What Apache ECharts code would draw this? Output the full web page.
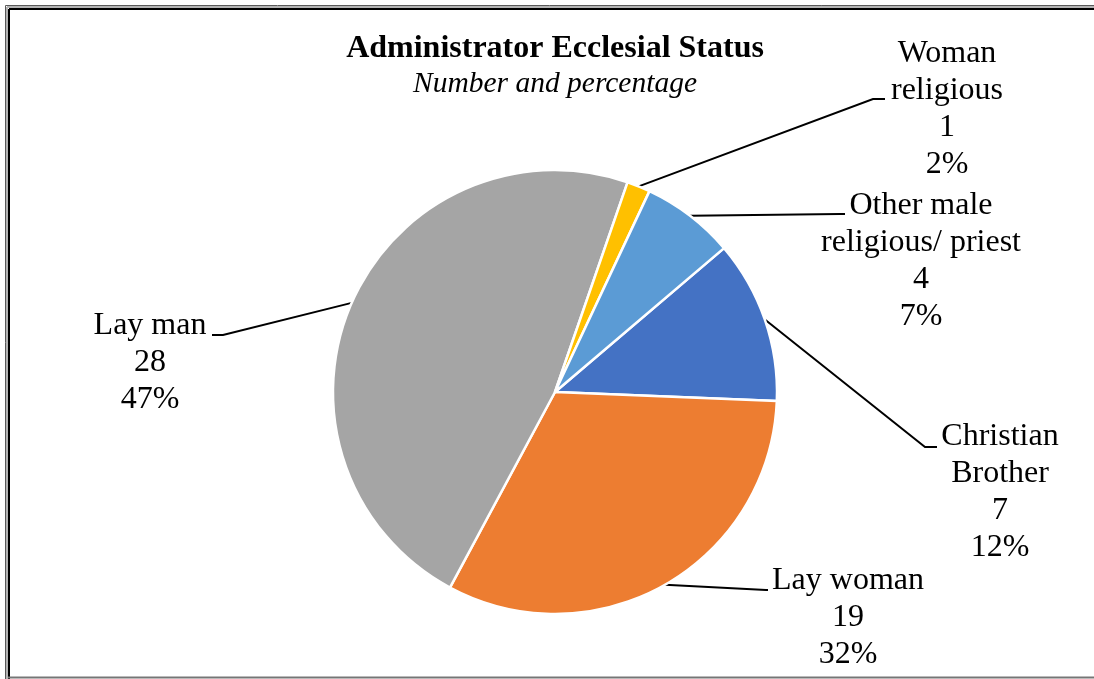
<!DOCTYPE html>
<html>
<head>
<meta charset="utf-8">
<script src="https://cdn.jsdelivr.net/npm/echarts@6/dist/echarts.min.js"></script>
<style>
html,body{margin:0;padding:0;background:#fff;}
#chart{width:1094px;height:679px;}
</style>
</head>
<body>
<div id="chart"></div>
<script>
// ---- data ----
const categories = ['Christian Brother', 'Lay woman', 'Lay man', 'Woman religious', 'Other male religious/ priest'];
const counts = [7, 19, 28, 1, 4];
const labelNames = ['Christian\nBrother', 'Lay woman', 'Lay man', 'Woman\nreligious', 'Other male\nreligious/ priest'];
const sliceColors = ['#4472C4', '#ED7D31', '#A5A5A5', '#FFC000', '#5B9BD5'];
const titleText = 'Administrator Ecclesial Status';
const subtitleText = 'Number and percentage';

// ---- label placement (layout only) ----
const labelSpots = [
  { x: 1000, y: 418, elbow: [925, 447], end: [937, 447] },
  { x: 848, y: 562, elbow: [766, 590], end: [768, 590] },
  { x: 150, y: 307, elbow: [223, 335], end: [212, 335] },
  { x: 947, y: 35, elbow: [873, 99], end: [885, 99] },
  { x: 921, y: 187, elbow: [840, 214], end: [845, 214] }
];

const chart = echarts.init(document.getElementById('chart'), null, { renderer: 'canvas' });
const serif = "'Liberation Serif', 'Times New Roman', serif";

const option = {
  animation: false,
  backgroundColor: '#fff',
  graphic: [
    { type: 'line', shape: { x1: 5.5, y1: 5.5, x2: 1094, y2: 5.5 }, style: { stroke: '#595959', lineWidth: 1 } },
    { type: 'line', shape: { x1: 5.5, y1: 5.5, x2: 5.5, y2: 679 }, style: { stroke: '#595959', lineWidth: 1 } },
    { type: 'line', shape: { x1: 7, y1: 7, x2: 1094, y2: 7 }, style: { stroke: '#b4b4b4', lineWidth: 2 } },
    { type: 'line', shape: { x1: 7, y1: 7, x2: 7, y2: 679 }, style: { stroke: '#b4b4b4', lineWidth: 2 } },
    { type: 'line', shape: { x1: 9, y1: 9, x2: 1094, y2: 9 }, style: { stroke: '#000', lineWidth: 2 } },
    { type: 'line', shape: { x1: 9, y1: 9, x2: 9, y2: 679 }, style: { stroke: '#000', lineWidth: 2 } },
    { type: 'line', shape: { x1: 8, y1: 677.5, x2: 1094, y2: 677.5 }, style: { stroke: '#767676', lineWidth: 2 } },
    {
      type: 'text', x: 555, y: 48.5,
      style: { text: titleText, align: 'center', verticalAlign: 'middle', fill: '#000',
        font: "bold 32px 'Liberation Serif', 'Times New Roman', serif" }
    },
    {
      type: 'text', x: 555, y: 84.5,
      style: { text: subtitleText, align: 'center', verticalAlign: 'middle', fill: '#000',
        font: "italic 29.5px 'Liberation Serif', 'Times New Roman', serif" }
    }
  ],
  series: [{
    type: 'pie',
    center: [555, 392],
    radius: 222,
    startAngle: 40.4,
    clockwise: true,
    avoidLabelOverlap: false,
    percentPrecision: 0,
    emphasis: { disabled: true },
    itemStyle: { borderColor: '#fff', borderWidth: 2.5 },
    label: {
      show: true,
      position: 'outside',
      fontFamily: serif,
      fontSize: 32,
      lineHeight: 37,
      color: '#000',
      formatter: function (p) {
        return labelNames[p.dataIndex] + '\n' + p.value + '\n' + p.percent + '%';
      }
    },
    labelLine: {
      show: true,
      length: 10,
      length2: 10,
      lineStyle: { color: '#000', width: 2 }
    },
    labelLayout: function (p) {
      const s = labelSpots[p.dataIndex];
      const pts = p.labelLinePoints;
      const start = pts ? [pts[0][0], pts[0][1]] : [s.elbow[0], s.elbow[1]];
      return {
        x: s.x,
        y: s.y,
        align: 'center',
        verticalAlign: 'top',
        labelLinePoints: [start, s.elbow.slice(), s.end.slice()]
      };
    },
    data: categories.map(function (c, i) {
      return { name: c, value: counts[i], itemStyle: { color: sliceColors[i] } };
    })
  }]
};
chart.setOption(option);
</script>
</body>
</html>
